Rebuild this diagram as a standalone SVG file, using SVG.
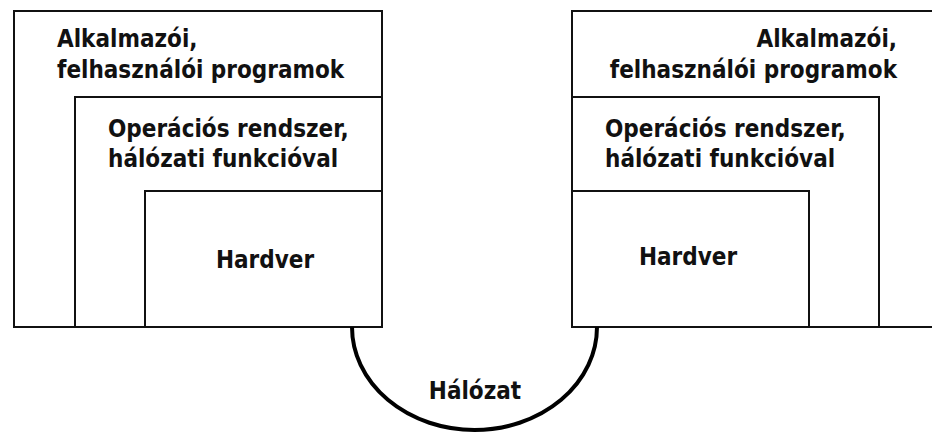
<svg xmlns="http://www.w3.org/2000/svg" width="932" height="434" viewBox="0 0 932 434">
<style>
.box{fill:#fff;stroke:#111;stroke-width:2}
.t{font-family:"DejaVu Sans Condensed","DejaVu Sans","Liberation Sans",sans-serif;font-stretch:condensed;font-weight:bold;font-size:24px;fill:#111}
.link{fill:none;stroke:#000;stroke-width:4}
</style>
<rect width="932" height="434" fill="#fff"/>
<g id="left-app">
<rect class="box" x="14" y="11" width="368" height="316"/>
<text class="t" x="57" y="47">Alkalmazói,</text>
<text class="t" x="57" y="78">felhasználói programok</text>
</g>
<g id="left-os">
<rect class="box" x="75" y="97" width="307" height="230"/>
<text class="t" x="108" y="137">Operációs rendszer,</text>
<text class="t" x="108" y="167">hálózati funkcióval</text>
</g>
<g id="left-hw">
<rect class="box" x="145" y="191" width="237" height="136"/>
<text class="t" x="265" y="268" text-anchor="middle">Hardver</text>
</g>
<g id="right-app">
<path class="box" d="M933 11 H572 V327 H933"/>
<text class="t" x="897" y="47" text-anchor="end">Alkalmazói,</text>
<text class="t" x="897" y="78" text-anchor="end">felhasználói programok</text>
</g>
<g id="right-os">
<rect class="box" x="572" y="97" width="307" height="230"/>
<text class="t" x="605" y="137">Operációs rendszer,</text>
<text class="t" x="605" y="167">hálózati funkcióval</text>
</g>
<g id="right-hw">
<rect class="box" x="572" y="191" width="237" height="136"/>
<text class="t" x="688" y="265" text-anchor="middle">Hardver</text>
</g>
<g id="connectors">
<path class="link" d="M352 327 A122.5 103 0 0 0 597 327"/>
<text class="t" x="475" y="399" text-anchor="middle">Hálózat</text>
</g>
</svg>
